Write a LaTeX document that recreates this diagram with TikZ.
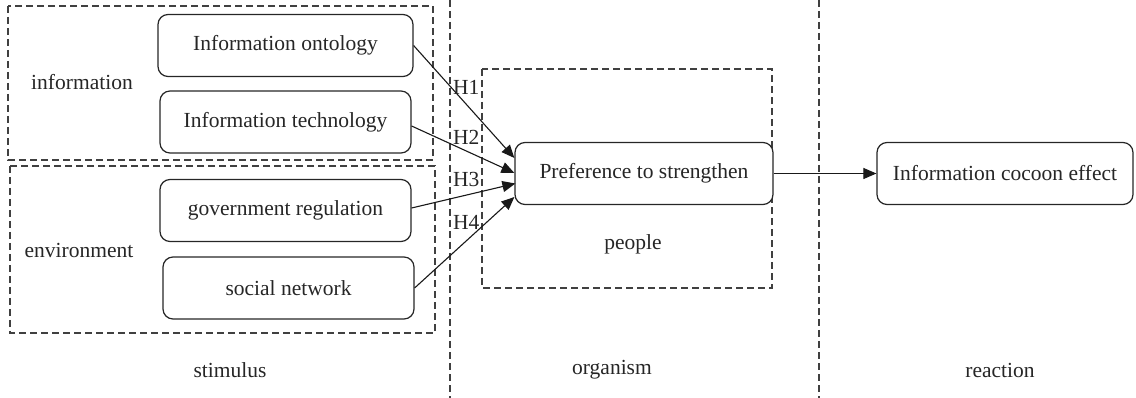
\documentclass[tikz,border=0pt]{standalone}
\usepackage{fontspec}
\setmainfont{Liberation Serif}
\usetikzlibrary{arrows.meta}
\begin{document}
\begin{tikzpicture}[x=1pt,y=-1pt,
  every node/.style={font=\fontsize{21.5}{24}\selectfont, text=black!85},
  rbox/.style={draw=black!85, line width=1.2pt, rounded corners=10pt, minimum height=62pt, inner sep=0pt},
  dbox/.style={draw=black!75, line width=1.2pt, dash pattern=on 7pt off 4pt},
  lbl/.style={inner sep=0pt},
  conn/.style={draw=black!90, line width=1.1pt, -{Triangle[length=13pt,width=11pt]}}
]
\useasboundingbox (0,0) rectangle (1136,398);
% dashed groups
\draw[dbox] (8,6) rectangle (433,160);
\draw[dbox] (10,166) rectangle (435,333);
\draw[dbox] (482,69) rectangle (772,288);
\draw[dbox] (450,0) -- (450,398);
\draw[dbox] (819,0) -- (819,398);
% boxes
\node[rbox, minimum width=255pt] (onto) at (285.5,45.5) {Information ontology};
\node[rbox, minimum width=251pt] (tech) at (285.5,122) {Information technology};
\node[rbox, minimum width=251pt] (gov) at (285.5,210.5) {government regulation};
\node[rbox, minimum width=251pt] (soc) at (288.5,288) {social network};
\node[rbox, minimum width=258pt, fill=white] (pref) at (644,173.5) {Preference to strengthen};
\node[rbox, minimum width=256pt] (coc) at (1005,173.5) {Information cocoon effect};
% labels
\node[lbl] (linfo) at (82,82) {information};
\node[lbl] (lenv) at (79,250) {environment};
\node[lbl] (lpeople) at (633,244) {people};
\node[lbl] (lstim) at (230,370) {stimulus};
\node[lbl] (lorg) at (612,370) {organism};
\node[lbl] (lreac) at (1000,370) {reaction};
% connectors (yshift is on the page: positive = up)
\draw[conn] (onto.east) -- ([yshift=15.5pt]pref.west);
\draw[conn] ([yshift=-4pt]tech.east) -- ([yshift=0.5pt]pref.west);
\draw[conn] ([yshift=2.5pt]gov.east) -- ([xshift=1pt,yshift=-10pt]pref.west);
\draw[conn] (soc.east) -- ([yshift=-23.5pt]pref.west);
\draw[conn] (pref.east) -- (coc.west);
% hypothesis labels
\node[lbl, anchor=west] (h1) at (453,87) {H1};
\node[lbl, anchor=west] (h2) at (453,137) {H2};
\node[lbl, anchor=west] (h3) at (453,179) {H3};
\node[lbl, anchor=west] (h4) at (453,222) {H4};
\end{tikzpicture}
\end{document}
